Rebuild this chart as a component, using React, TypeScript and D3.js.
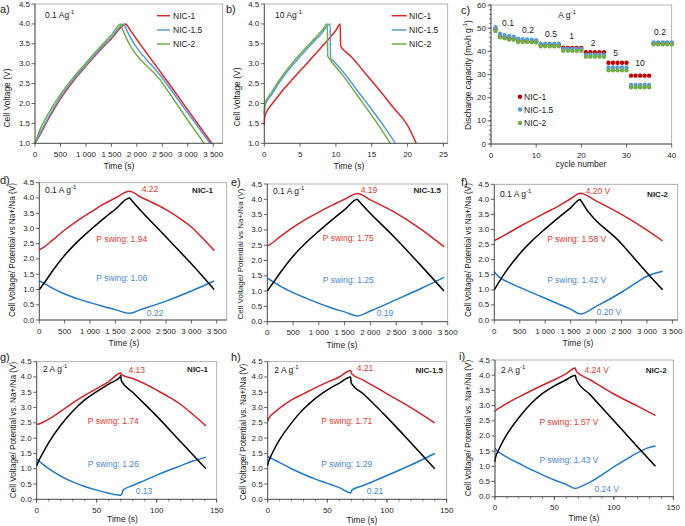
import React from 'react';
import * as d3 from 'd3';

type P = [number, number];
const FONT = "'Liberation Sans', Arial, Helvetica, sans-serif";

// ---------- Panel a: 0.1 A/g GCD ----------
const aNIC1: P[] = [[0,1.0],[100,1.22],[250,1.58],[500,2.12],[750,2.56],[1000,2.94],[1250,3.3],[1500,3.63],[1790,4.0],[1800,3.98],[2500,2.73],[3000,1.84],[3470,1.0]];
const aNIC15: P[] = [[0,1.0],[100,1.25],[250,1.62],[500,2.16],[750,2.6],[1000,2.97],[1250,3.33],[1500,3.66],[1745,4.0],[1755,3.97],[2500,2.64],[3000,1.76],[3436,1.0]];
const aNIC2: P[] = [[0,1.0],[100,1.35],[250,1.72],[500,2.23],[750,2.65],[1000,3.02],[1250,3.38],[1500,3.72],[1682,4.0],[1692,3.96],[2500,2.52],[3000,1.58],[3318,1.0]];

// ---------- Panel b: 10 A/g GCD ----------
const bNIC1: P[] = [[0,1.45],[0.05,1.65],[0.3,1.78],[1,1.97],[2,2.2],[3,2.42],[4,2.62],[5,2.82],[6,3.02],[7,3.22],[8,3.42],[9,3.62],[10,3.84],[10.6,4.0],[10.65,3.45],[11,3.36],[12,3.2],[14,2.78],[16,2.35],[18,1.9],[20,1.45],[21.2,1.0]];
const bNIC15: P[] = [[0,1.7],[0.1,1.95],[0.5,2.1],[1,2.22],[2,2.5],[3,2.75],[4,2.98],[5,3.18],[6,3.38],[7,3.57],[8,3.76],[9.2,4.0],[9.25,3.15],[9.6,3.08],[11,2.8],[13,2.32],[15,1.85],[17,1.35],[18.3,1.0]];
const bNIC2: P[] = [[0,1.75],[0.1,2.0],[0.5,2.15],[1,2.28],[2,2.56],[3,2.81],[4,3.04],[5,3.24],[6,3.44],[7,3.63],[8,3.82],[8.8,4.0],[8.85,3.2],[9.2,3.1],[11,2.7],[13,2.2],[15,1.7],[16.5,1.3],[17.6,1.0]];

// ---------- Panel c: rate capability ----------
const cycles: number[] = d3.range(1, 41);
const cNIC1: number[] = [49.5,46.5,46,45.6,45.5,44.6,44.5,44.3,44.2,44.2,42.8,42.8,42.8,42.8,42.8,41.6,41.5,41.5,41.5,41.5,39.6,39.6,39.6,39.6,39.6,35.1,35.1,35.1,35.1,35.1,29.5,29.5,29.5,29.5,29.5,43.5,43.5,43.5,43.5,43.5];
const cNIC15: number[] = [50.4,47.6,47,46.5,46.3,45.4,45.2,45.1,45,44.8,43.3,43.3,43.3,43.3,43.3,41,41,41,41,41,38.5,38.5,38.5,38.5,38.5,33,33,33,33,33,25.5,25.5,25.5,25.5,25.5,43.8,43.8,43.8,43.8,43.8];
const cNIC2: number[] = [48.8,46.1,45.6,45.1,45,44,44,44,43.9,43.8,42.2,42.2,42.2,42.2,42.2,40.2,40.2,40.2,40.2,40.2,37.7,37.7,37.7,37.7,37.7,31.8,31.8,31.8,31.8,31.8,24.5,24.5,24.5,24.5,24.5,43,43,43,43,43];
const cRateLabels: string[] = ['0.1','0.2','0.5','1','2','5','10','0.2'];

// ---------- Panels d-f: 0.1 A/g three-electrode ----------
const dCell: P[] = [[0,1.0],[100,1.22],[250,1.58],[500,2.12],[750,2.56],[1000,2.94],[1250,3.3],[1500,3.63],[1780,4.0],[1790,3.98],[2500,2.72],[3000,1.84],[3450,1.0]];
const dPos: P[] = [[0,2.3],[100,2.4],[250,2.6],[500,2.95],[750,3.25],[1000,3.52],[1250,3.78],[1500,4.0],[1780,4.22],[2000,4.03],[2500,3.62],[2800,3.3],[3000,3.05],[3200,2.72],[3450,2.28]];
const dNeg: P[] = [[0,1.28],[100,1.2],[250,1.05],[500,0.85],[750,0.7],[1000,0.57],[1250,0.45],[1500,0.34],[1780,0.22],[2000,0.34],[2500,0.62],[3000,0.95],[3450,1.28]];

const eCell: P[] = [[0,1.0],[100,1.24],[250,1.6],[500,2.14],[750,2.58],[1000,2.96],[1250,3.32],[1500,3.66],[1750,4.0],[1760,3.98],[2500,2.7],[3000,1.8],[3430,1.0]];
const ePos: P[] = [[0,2.47],[100,2.58],[250,2.78],[500,3.08],[750,3.35],[1000,3.58],[1250,3.8],[1500,4.0],[1750,4.19],[2000,3.98],[2500,3.55],[3000,3.0],[3200,2.75],[3430,2.45]];
const eNeg: P[] = [[0,1.42],[100,1.32],[250,1.16],[500,0.95],[750,0.77],[1000,0.6],[1250,0.45],[1500,0.32],[1750,0.19],[2000,0.35],[2500,0.72],[3000,1.1],[3430,1.45]];

const fCell: P[] = [[0,1.0],[100,1.28],[250,1.66],[500,2.2],[750,2.64],[1000,3.02],[1250,3.38],[1500,3.72],[1690,4.0],[1700,3.97],[2500,2.53],[3000,1.57],[3310,1.0]];
const fPos: P[] = [[0,2.63],[100,2.72],[250,2.86],[500,3.1],[750,3.33],[1000,3.55],[1250,3.77],[1500,4.02],[1690,4.2],[2000,3.95],[2500,3.5],[3000,2.98],[3310,2.62]];
const fNeg: P[] = [[0,1.6],[50,1.5],[100,1.42],[250,1.27],[500,1.08],[750,0.9],[1000,0.72],[1250,0.54],[1500,0.36],[1690,0.2],[2000,0.45],[2500,0.92],[2800,1.25],[3000,1.45],[3310,1.62]];

// ---------- Panels g-i: 2 A/g three-electrode ----------
const gCell: P[] = [[0,1.1],[1,1.2],[5,1.5],[10,1.85],[20,2.42],[30,2.88],[40,3.25],[50,3.52],[60,3.77],[69.5,4.0],[70,4.05],[70.5,3.88],[80,3.5],[100,2.72],[120,1.88],[141,1.0]];
const gPos: P[] = [[0,2.45],[3,2.48],[10,2.62],[20,2.88],[30,3.15],[40,3.4],[50,3.62],[60,3.85],[70,4.13],[71,4.07],[80,3.95],[90,3.78],[100,3.57],[110,3.35],[120,3.1],[130,2.78],[141,2.4]];
const gNeg: P[] = [[0,1.32],[5,1.15],[10,1.0],[20,0.76],[30,0.57],[40,0.42],[50,0.3],[60,0.2],[70,0.13],[71,0.18],[72,0.3],[80,0.45],[90,0.62],[100,0.79],[110,0.95],[120,1.1],[130,1.25],[141,1.38]];

const hCell: P[] = [[0,1.1],[0.5,1.2],[2,1.35],[5,1.6],[10,1.95],[20,2.5],[30,2.95],[40,3.3],[50,3.58],[60,3.8],[69.5,4.0],[70,3.8],[80,3.45],[100,2.68],[120,1.85],[140,1.0]];
const hPos: P[] = [[0,2.55],[1,2.65],[5,2.82],[10,2.98],[20,3.25],[30,3.45],[40,3.65],[50,3.83],[60,4.0],[69.5,4.21],[70.5,4.1],[80,3.9],[100,3.45],[120,3.0],[140,2.5]];
const hNeg: P[] = [[0,1.4],[5,1.3],[10,1.2],[20,1.0],[30,0.82],[40,0.66],[50,0.52],[60,0.38],[69.5,0.21],[70,0.23],[70.5,0.3],[80,0.45],[100,0.78],[120,1.12],[140,1.5]];

const iCell: P[] = [[0,1.15],[0.5,1.3],[2,1.45],[5,1.7],[10,2.05],[20,2.6],[30,3.05],[40,3.4],[50,3.65],[60,3.85],[67.5,4.0],[68.5,3.85],[80,3.36],[100,2.5],[120,1.64],[135,1.0]];
const iPos: P[] = [[0,2.8],[1,2.85],[5,2.95],[10,3.07],[20,3.28],[30,3.48],[40,3.67],[50,3.85],[60,4.05],[67.5,4.24],[68.5,4.12],[80,3.85],[100,3.38],[120,2.98],[135,2.67]];
const iNeg: P[] = [[0,1.6],[2,1.5],[5,1.42],[10,1.3],[20,1.1],[30,0.9],[40,0.72],[50,0.55],[60,0.4],[67.5,0.27],[70,0.3],[80,0.48],[90,0.72],[100,0.98],[110,1.22],[120,1.45],[128,1.6],[135,1.67]];

// ---------- tick values ----------
const tTicksLong: number[] = [0,500,1000,1500,2000,2500,3000,3500];
const tTicksB: number[] = [0,5,10,15,20,25];
const tTicksShort: number[] = [0,50,100,150];
const tMinorShort: number[] = d3.range(0, 151, 10);
const vTicksA: number[] = [1.0,1.5,2.0,2.5,3.0,3.5,4.0,4.5];
const vTicksD: number[] = [0,0.5,1.0,1.5,2.0,2.5,3.0,3.5,4.0,4.5];
const capTicks: number[] = [0,10,20,30,40,50,60];
const capMinor: number[] = d3.range(0, 61, 2);
const cycTicks: number[] = [0,10,20,30,40];

const RED = '#e0262b';
const LBLUE = '#5b9bd5';
const GREEN = '#70ad47';
const DRED = '#d2232a';
const DBLUE = '#1f78c8';
const RTXT = '#e03c31';
const BTXT = '#4a8ad4';

const fmtThousands = (v: number) => (v >= 1000 ? d3.format(',')(v).replace(',', ' ') : String(v));
const fmt1 = d3.format('.1f');
const fmt0 = (v: number) => String(v);

interface Series { data: P[]; color: string; }
interface Cfg {
  x0: number; x1: number; y0: number; y1: number;
  xd: [number, number]; yd: [number, number];
  xt: number[]; yt: number[]; xm?: number[]; ym?: number[];
  xf: (v: number) => string; yf: (v: number) => string;
  series: Series[];
}

function Frame({ c }: { c: Cfg }) {
  const x = d3.scaleLinear().domain(c.xd).range([c.x0, c.x1]);
  const y = d3.scaleLinear().domain(c.yd).range([c.y1, c.y0]);
  const line = d3.line<P>().x(d => x(d[0])).y(d => y(d[1])).curve(d3.curveMonotoneX);
  return (
    <g>
      <rect x={c.x0} y={c.y0} width={c.x1 - c.x0} height={c.y1 - c.y0} fill="white" stroke="#a0a0a0" strokeWidth={0.8} />
      {c.series.map((s, i) => (
        <path key={i} d={line(s.data) || ''} fill="none" stroke={s.color} strokeWidth={1.5} strokeLinejoin="round" />
      ))}
      <line x1={c.x0} x2={c.x0} y1={c.y0} y2={c.y1} stroke="#404040" strokeWidth={0.8} />
      <line x1={c.x0} x2={c.x1} y1={c.y1} y2={c.y1} stroke="#404040" strokeWidth={0.8} />
      {(c.xm || []).map((v, i) => (
        <line key={'xm' + i} x1={x(v)} x2={x(v)} y1={c.y1} y2={c.y1 + 2} stroke="#404040" strokeWidth={0.7} />
      ))}
      {(c.ym || []).map((v, i) => (
        <line key={'ym' + i} x1={c.x0 - 2} x2={c.x0} y1={y(v)} y2={y(v)} stroke="#404040" strokeWidth={0.7} />
      ))}
      {c.xt.map((v, i) => (
        <g key={'xt' + i}>
          <line x1={x(v)} x2={x(v)} y1={c.y1} y2={c.y1 + 3.5} stroke="#404040" strokeWidth={0.8} />
          <text x={x(v)} y={c.y1 + 11} textAnchor="middle" dominantBaseline="central" fontSize={8} fill="#262626">{c.xf(v)}</text>
        </g>
      ))}
      {c.yt.map((v, i) => (
        <g key={'yt' + i}>
          <line x1={c.x0 - 3.5} x2={c.x0} y1={y(v)} y2={y(v)} stroke="#404040" strokeWidth={0.8} />
          <text x={c.x0 - 5} y={y(v)} textAnchor="end" dominantBaseline="central" fontSize={8} fill="#262626">{c.yf(v)}</text>
        </g>
      ))}
    </g>
  );
}

function YTitle({ x, y, size = 8.5, children }: { x: number; y: number; size?: number; children: React.ReactNode }) {
  return (
    <text transform={`translate(${x},${y}) rotate(-90)`} textAnchor="middle" dominantBaseline="central" fontSize={size} fill="#222">{children}</text>
  );
}
function T({ x, y, children, color = '#222', anchor = 'middle', size = 8.5, bold = false }: any) {
  return (
    <text x={x} y={y} textAnchor={anchor} dominantBaseline="central" fontSize={size} fill={color} fontWeight={bold ? 'bold' : 'normal'}>{children}</text>
  );
}
const Sup = ({ t }: { t: string }) => <tspan dy={-3} fontSize={6}>{t}</tspan>;

function RatePanel() {
  const c: Cfg = { x0: 491, x1: 671.7, y0: 5, y1: 144, xd: [0, 40], yd: [0, 60], xt: cycTicks, yt: capTicks, ym: capMinor, xf: fmt0, yf: fmt0, series: [] };
  const x = d3.scaleLinear().domain(c.xd).range([c.x0, c.x1]);
  const y = d3.scaleLinear().domain(c.yd).range([c.y1, c.y0]);
  const sets: [number[], string][] = [[cNIC1, '#c00000'], [cNIC15, LBLUE], [cNIC2, GREEN]];
  return (
    <g>
      <Frame c={c} />
      {sets.map(([vals, col], si) => (
        <g key={si}>
          {vals.map((v, i) => (
            <circle key={i} cx={x(cycles[i])} cy={y(v)} r={2.2} fill={col} />
          ))}
        </g>
      ))}
    </g>
  );
}

export default function App() {
  const cfgA: Cfg = { x0: 35, x1: 222.7, y0: 4, y1: 143.3, xd: [0, 3685], yd: [1, 4.5], xt: tTicksLong, yt: vTicksA, xf: fmtThousands, yf: fmt1,
    series: [{ data: aNIC1, color: RED }, { data: aNIC15, color: LBLUE }, { data: aNIC2, color: GREEN }] };
  const cfgB: Cfg = { x0: 264.3, x1: 447.7, y0: 4, y1: 143.3, xd: [0, 25.6], yd: [1, 4.5], xt: tTicksB, yt: vTicksA, xf: fmt0, yf: fmt1,
    series: [{ data: bNIC1, color: RED }, { data: bNIC15, color: LBLUE }, { data: bNIC2, color: GREEN }] };
  const cfgD: Cfg = { x0: 39.3, x1: 226.7, y0: 182.7, y1: 320, xd: [0, 3697], yd: [0, 4.5], xt: tTicksLong, yt: vTicksD, xf: fmtThousands, yf: fmt1,
    series: [{ data: dPos, color: DRED }, { data: dNeg, color: DBLUE }, { data: dCell, color: '#000' }] };
  const cfgE: Cfg = { x0: 267.3, x1: 447.7, y0: 184, y1: 321.7, xd: [0, 3500], yd: [0, 4.5], xt: tTicksLong, yt: vTicksD, xf: fmtThousands, yf: fmt1,
    series: [{ data: ePos, color: DRED }, { data: eNeg, color: DBLUE }, { data: eCell, color: '#000' }] };
  const cfgF: Cfg = { x0: 494.3, x1: 677.7, y0: 184.3, y1: 320, xd: [0, 3605], yd: [0, 4.5], xt: tTicksLong, yt: vTicksD, xf: fmtThousands, yf: fmt1,
    series: [{ data: fPos, color: DRED }, { data: fNeg, color: DBLUE }, { data: fCell, color: '#000' }] };
  const cfgG: Cfg = { x0: 36.7, x1: 216.7, y0: 361.7, y1: 499.3, xd: [0, 150], yd: [0, 4.5], xt: tTicksShort, xm: tMinorShort, yt: vTicksD, xf: fmt0, yf: fmt1,
    series: [{ data: gPos, color: DRED }, { data: gNeg, color: DBLUE }, { data: gCell, color: '#000' }] };
  const cfgH: Cfg = { x0: 267.7, x1: 446.7, y0: 361.7, y1: 499.3, xd: [0, 150], yd: [0, 4.5], xt: tTicksShort, xm: tMinorShort, yt: vTicksD, xf: fmt0, yf: fmt1,
    series: [{ data: hPos, color: DRED }, { data: hNeg, color: DBLUE }, { data: hCell, color: '#000' }] };
  const cfgI: Cfg = { x0: 495, x1: 673.3, y0: 360, y1: 496.7, xd: [0, 150], yd: [0, 4.5], xt: tTicksShort, xm: tMinorShort, yt: vTicksD, xf: fmt0, yf: fmt1,
    series: [{ data: iPos, color: DRED }, { data: iNeg, color: DBLUE }, { data: iCell, color: '#000' }] };

  const legA = [['NIC-1', RED], ['NIC-1.5', LBLUE], ['NIC-2', GREEN]];
  const legYs = [15.7, 30, 44];
  const legCYs = [96.7, 109.5, 123];
  const rateX = [508, 528, 551, 571.7, 593, 615.7, 640, 660];
  const rateY = [23, 30, 34, 36, 43, 53, 63, 32];

  return (
    <svg width={685} height={526} style={{ position: 'absolute', left: 0, top: 0, fontFamily: FONT }}>
      <rect width={685} height={526} fill="white" />
      {/* a */}
      <Frame c={cfgA} />
      <T x={0} y={9} anchor="start" size={11}>a)</T>
      <T x={45} y={15} anchor="start">0.1 Ag<Sup t="-1" /></T>
      {legA.map(([n, col], i) => (
        <g key={'la' + i}>
          <line x1={157} x2={170} y1={legYs[i]} y2={legYs[i]} stroke={col} strokeWidth={1.5} />
          <T x={173} y={legYs[i]} anchor="start">{n}</T>
        </g>
      ))}
      <YTitle x={7} y={98}>Cell Voltage (V)</YTitle>
      <T x={119} y={165.7}>Time (s)</T>

      {/* b */}
      <Frame c={cfgB} />
      <T x={226} y={9} anchor="start" size={11}>b)</T>
      <T x={275} y={15} anchor="start">10 Ag<Sup t="-1" /></T>
      {legA.map(([n, col], i) => (
        <g key={'lb' + i}>
          <line x1={391.7} x2={406.7} y1={legYs[i]} y2={legYs[i]} stroke={col} strokeWidth={1.5} />
          <T x={409} y={legYs[i]} anchor="start">{n}</T>
        </g>
      ))}
      <YTitle x={237} y={97}>Cell Voltage (V)</YTitle>
      <T x={349} y={165.7}>Time (s)</T>

      {/* c */}
      <RatePanel />
      <T x={461} y={10} anchor="start" size={11}>c)</T>
      <T x={567} y={15}>A g<Sup t="-1" /></T>
      {cRateLabels.map((s, i) => (
        <T key={'r' + i} x={rateX[i]} y={rateY[i]}>{s}</T>
      ))}
      {[['NIC-1', '#c00000'], ['NIC-1.5', LBLUE], ['NIC-2', GREEN]].map(([n, col], i) => (
        <g key={'lc' + i}>
          <circle cx={520} cy={legCYs[i]} r={2.2} fill={col} />
          <T x={524} y={legCYs[i]} anchor="start">{n}</T>
        </g>
      ))}
      <YTitle x={468} y={75}>Discharge capacity (mAh g<Sup t="-1" /><tspan dy={3}>)</tspan></YTitle>
      <T x={581} y={164}>cycle number</T>

      {/* d */}
      <Frame c={cfgD} />
      <T x={0} y={180} anchor="start" size={11}>d)</T>
      <T x={45} y={190} anchor="start">0.1 A g<Sup t="-1" /></T>
      <T x={213} y={190} anchor="end" bold size={8}>NIC-1</T>
      <T x={150} y={189} color={RTXT}>4.22</T>
      <T x={121.7} y={239.3} color={RTXT}>P swing: 1.94</T>
      <T x={121.7} y={278} color={BTXT}>P swing: 1.06</T>
      <T x={155} y={312.7} color={BTXT}>0.22</T>
      <YTitle x={12.5} y={250} size={8.2}>Cell Voltage/ Potential vs Na+/Na (V)</YTitle>
      <T x={124} y={343.3}>Time (s)</T>

      {/* e */}
      <Frame c={cfgE} />
      <T x={231} y={182} anchor="start" size={11}>e)</T>
      <T x={273} y={190.7} anchor="start">0.1 A g<Sup t="-1" /></T>
      <T x={441} y={190.7} anchor="end" bold size={8}>NIC-1.5</T>
      <T x={369} y={190} color={RTXT}>4.19</T>
      <T x={348.3} y={237.7} color={RTXT}>P swing: 1.75</T>
      <T x={348.3} y={280} color={BTXT}>P swing: 1.25</T>
      <T x={385} y={312.7} color={BTXT}>0.19</T>
      <YTitle x={240} y={254} size={8}>Cell Voltage/ Potential vs Na+/Na (V)</YTitle>
      <T x={342} y={345}>Time (s)</T>

      {/* f */}
      <Frame c={cfgF} />
      <T x={461} y={182} anchor="start" size={11}>f)</T>
      <T x={500} y={194} anchor="start">0.1 A g<Sup t="-1" /></T>
      <T x={668} y={194} anchor="end" bold size={8}>NIC-2</T>
      <T x={598} y={190.7} color={RTXT}>4.20 V</T>
      <T x={576.7} y={239.3} color={RTXT}>P swing: 1.58 V</T>
      <T x={576.7} y={280} color={BTXT}>P swing: 1.42 V</T>
      <T x={609} y={311.7} color={BTXT}>0.20 V</T>
      <YTitle x={468} y={250} size={8.2}>Cell Voltage/ Potential vs Na+/Na (V)</YTitle>
      <T x={578} y={343}>Time (s)</T>

      {/* g */}
      <Frame c={cfgG} />
      <T x={0} y={357} anchor="start" size={11}>g)</T>
      <T x={43} y={369} anchor="start">2 A g<Sup t="-1" /></T>
      <T x={208} y={369} anchor="end" bold size={8}>NIC-1</T>
      <T x={136.7} y={370} color={RTXT}>4.13</T>
      <T x={113.3} y={421} color={RTXT}>P swing: 1.74</T>
      <T x={113.3} y={464} color={BTXT}>P swing: 1.26</T>
      <T x={144} y={490.7} color={BTXT}>0.13</T>
      <YTitle x={13.5} y={430} size={8.2}>Cell Voltage/ Potential vs. Na+/Na (V)</YTitle>
      <T x={122.5} y={519}>Time (s)</T>

      {/* h */}
      <Frame c={cfgH} />
      <T x={231} y={357} anchor="start" size={11}>h)</T>
      <T x={274.3} y={370} anchor="start">2 A g<Sup t="-1" /></T>
      <T x={443} y={370} anchor="end" bold size={8}>NIC-1.5</T>
      <T x={365} y={368.3} color={RTXT}>4.21</T>
      <T x={346.7} y={421} color={RTXT}>P swing: 1.71</T>
      <T x={346.7} y={464} color={BTXT}>P swing: 1.29</T>
      <T x={375} y={490.7} color={BTXT}>0.21</T>
      <YTitle x={243} y={432} size={8.2}>Cell Voltage/ Potential vs. Na+/Na (V)</YTitle>
      <T x={362} y={520}>Time (s)</T>

      {/* i */}
      <Frame c={cfgI} />
      <T x={459} y={356} anchor="start" size={11}>i)</T>
      <T x={501} y={370} anchor="start">2 A g<Sup t="-1" /></T>
      <T x={666.7} y={370} anchor="end" bold size={8}>NIC-2</T>
      <T x={596.7} y={370} color={RTXT}>4.24 V</T>
      <T x={569} y={421.7} color={RTXT}>P swing: 1.57 V</T>
      <T x={569} y={460} color={BTXT}>P swing: 1.43 V</T>
      <T x={606.7} y={489.3} color={BTXT}>0.24 V</T>
      <YTitle x={468} y={428} size={8.2}>Cell Voltage/ Potential vs. Na+/Na (V)</YTitle>
      <T x={584} y={518}>Time (s)</T>
    </svg>
  );
}
